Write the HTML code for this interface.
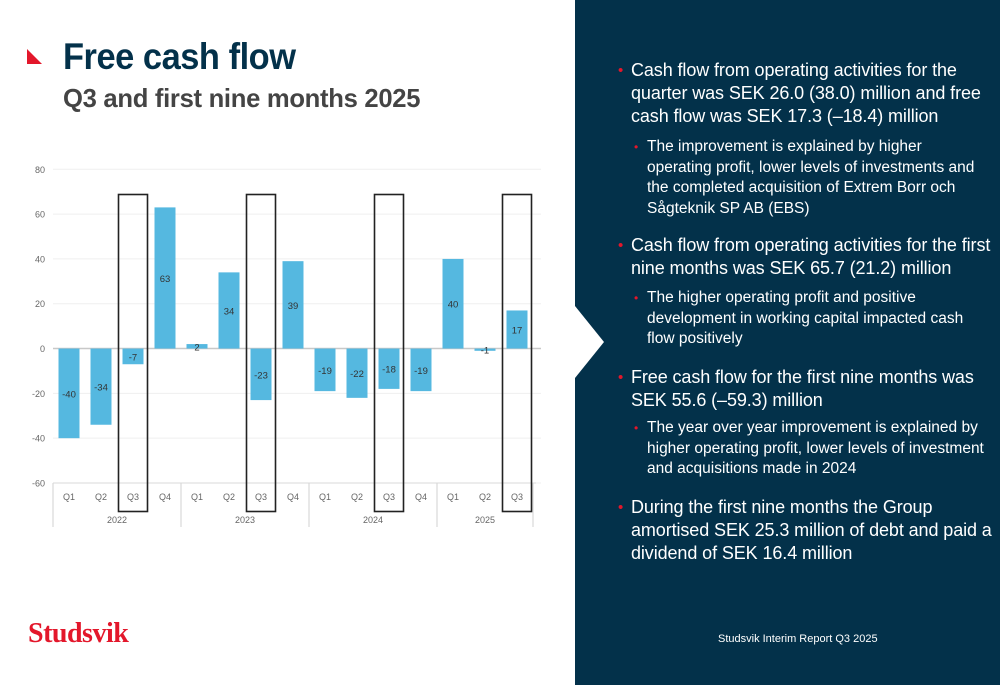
<!DOCTYPE html>
<html><head><meta charset="utf-8"><style>
body{margin:0;width:1000px;height:685px;position:relative;overflow:hidden;background:#fff;font-family:"Liberation Sans",Arial,sans-serif}
.abs{position:absolute}
#panel{left:575px;top:0;width:425px;height:685px;background:#03314a}
.b{position:absolute;left:631px;color:#fff;font-size:18px;line-height:23px;white-space:nowrap;letter-spacing:-0.1px}
.b::before{content:"•";color:#e3172b;position:absolute;left:-13px;font-size:15px}
.s{position:absolute;left:647px;color:#fff;font-size:15.5px;line-height:20.5px;white-space:nowrap;letter-spacing:0px}
.s::before{content:"•";color:#e3172b;position:absolute;left:-13px;font-size:12px}
</style></head><body>
<div class="abs" style="left:27px;top:49px;width:0;height:0;border-left:15px solid #e3172b;border-top:15px solid transparent"></div>
<div class="abs" style="left:63px;top:36px;font-size:37px;font-weight:bold;color:#03314a;letter-spacing:-0.5px;transform:scaleX(0.93);transform-origin:left top">Free cash flow</div>
<div class="abs" style="left:63px;top:83px;font-size:26px;font-weight:bold;color:#444;letter-spacing:-0.3px;transform:scaleX(0.985);transform-origin:left top">Q3 and first nine months 2025</div>
<div class="abs" style="left:28px;top:618px;font-family:'Liberation Serif',serif;font-size:28px;font-weight:bold;color:#e3172b;letter-spacing:-0.5px">Studsvik</div>

<svg class="abs" style="left:0;top:0" width="575" height="685" id="chart"></svg>

<div class="abs" id="panel"></div>
<svg class="abs" style="left:575px;top:0" width="40" height="685"><polygon points="0,306 29,342 0,378" fill="#fff"/></svg>

<div class="b" style="top:59px">Cash flow from operating activities for the<br>quarter was SEK 26.0 (38.0) million and free<br>cash flow was SEK 17.3 (–18.4) million</div>
<div class="s" style="top:137px">The improvement is explained by higher<br>operating profit, lower levels of investments and<br>the completed acquisition of Extrem Borr och<br>Sågteknik SP AB (EBS)</div>
<div class="b" style="top:234px">Cash flow from operating activities for the first<br>nine months was SEK 65.7 (21.2) million</div>
<div class="s" style="top:288px">The higher operating profit and positive<br>development in working capital impacted cash<br>flow positively</div>
<div class="b" style="top:366px">Free cash flow for the first nine months was<br>SEK 55.6 (–59.3) million</div>
<div class="s" style="top:418px">The year over year improvement is explained by<br>higher operating profit, lower levels of investment<br>and acquisitions made in 2024</div>
<div class="b" style="top:496px">During the first nine months the Group<br>amortised SEK 25.3 million of debt and paid a<br>dividend of SEK 16.4 million</div>
<div class="abs" style="left:718px;top:633px;color:#fff;font-size:11px">Studsvik Interim Report Q3 2025</div>

<script>
const quarters=["Q1","Q2","Q3","Q4","Q1","Q2","Q3","Q4","Q1","Q2","Q3","Q4","Q1","Q2","Q3"];
const years=["2022","2023","2024","2025"];
const yearCounts=[4,4,4,3];
const values=[-40,-34,-7,63,2,34,-23,39,-19,-22,-18,-19,40,-1,17];
const highlighted=[2,6,10,14];
const yTicks=[80,60,40,20,0,-20,-40,-60];

const svg=document.getElementById('chart');
const NS='http://www.w3.org/2000/svg';
const x0=53,x1=533,yTop=169.3,yBot=483;
const yMin=-60,yMax=80;
const y=v=>yTop+(yMax-v)/(yMax-yMin)*(yBot-yTop);
const band=(x1-x0)/quarters.length;
const xc=i=>x0+band*(i+0.5);
function el(tag,attrs,txt){const e=document.createElementNS(NS,tag);for(const k in attrs)e.setAttribute(k,attrs[k]);if(txt!==undefined)e.textContent=txt;svg.appendChild(e);return e;}

yTicks.forEach(t=>{
  const g=el('line',{x1:x0,x2:x1+8,y1:y(t),y2:y(t),stroke:t===0?'#c8c8c8':'#efefef','stroke-width':t===0?1.5:1});
  
  
  const l=el('text',{x:45,y:y(t)+3.5,'text-anchor':'end','font-size':9,fill:'#666','font-family':'Liberation Sans, sans-serif'},String(t));
  
  
});

values.forEach((v,i)=>{
  const bw=21;
  const r=el('rect',{x:xc(i)-bw/2,y:Math.min(y(v),y(0)),width:bw,height:Math.max(Math.abs(y(v)-y(0)),1.5),fill:'#55b8e0'});
  
  
  const t=el('text',{x:xc(i),y:(y(v)+y(0))/2+4,'text-anchor':'middle','font-size':9.5,fill:'#333','font-family':'Liberation Sans, sans-serif'},String(v));
  
  
  const q=el('text',{x:xc(i),y:500,'text-anchor':'middle','font-size':9,fill:'#666','font-family':'Liberation Sans, sans-serif'},quarters[i]);
  
  
});

let start=0;
const sep=el('line',{x1:x0,x2:x0,y1:yBot,y2:527,stroke:'#d0d0d0'});


years.forEach((yr,k)=>{
  const n=yearCounts[k];
  const xs=x0+band*start, xe=x0+band*(start+n);
  const s=el('line',{x1:xe,x2:xe,y1:yBot,y2:527,stroke:'#d0d0d0'});
  
  
  const t=el('text',{x:(xs+xe)/2,y:523,'text-anchor':'middle','font-size':9,fill:'#666','font-family':'Liberation Sans, sans-serif'},yr);
  
  
  start+=n;
});
const ax=el('line',{x1:x0,x2:x1+3,y1:yBot,y2:yBot,stroke:'#d8d8d8'});



highlighted.forEach(i=>{
  const b=el('rect',{x:xc(i)-14.5,y:194.5,width:29,height:317,fill:'none',stroke:'#222','stroke-width':1.6});
  
  
});
</script>
</body></html>
